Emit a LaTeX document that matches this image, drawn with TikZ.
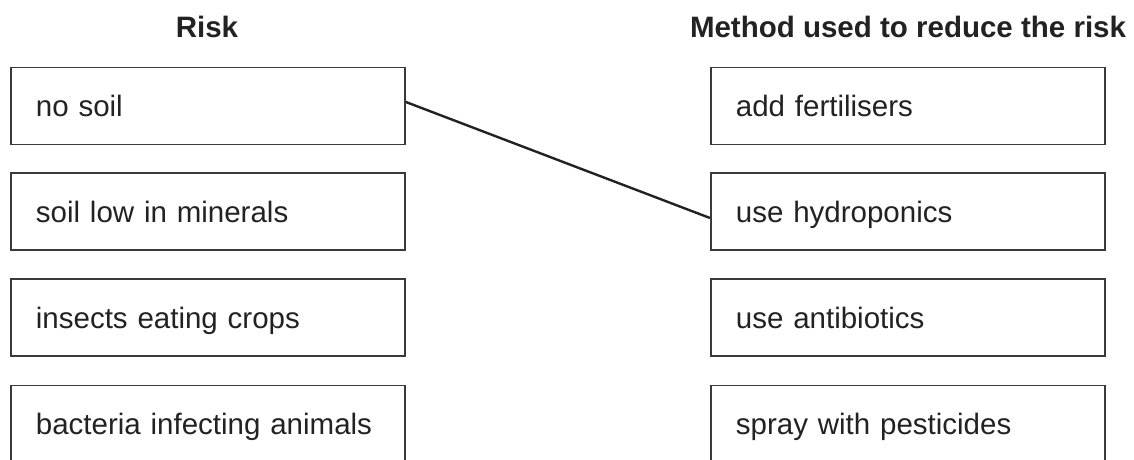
\documentclass[tikz,border=0pt]{standalone}
\usepackage{fontspec}
\setmainfont{Liberation Sans}
\usetikzlibrary{calc}
\definecolor{ink}{HTML}{222222}
\definecolor{frame}{HTML}{3A3A3A}
\begin{document}
\begin{tikzpicture}[x=1pt,y=-1pt,
  every node/.style={text=ink, font=\fontsize{29.5}{35}\selectfont},
  heading/.style={font=\fontsize{29.5}{35}\selectfont\bfseries, anchor=base},
  choice/.style={draw=frame, line width=1.8pt, anchor=north west,
    minimum width=394pt, minimum height=77pt, inner xsep=25pt, inner ysep=0pt,
    text width=344pt, align=left, text height=21pt, text depth=0pt},
  link/.style={draw=ink, line width=2.4pt}]
\useasboundingbox (0,0) rectangle (1134,459);

% column headings
\node[heading] (hrisk) at (207,37) {Risk};
\node[heading] (hmethod) at (908,37) {Method used to reduce the risk};

% left column: risks
\node[choice] (r1) at (10,66.5) {no soil};
\node[choice] (r2) at (10,172.3) {soil low in minerals};
\node[choice] (r3) at (10,278.2) {insects eating crops};
\node[choice] (r4) at (10,384.5) {bacteria infecting animals};

% right column: methods
\node[choice] (m1) at (710,66.5) {add fertilisers};
\node[choice] (m2) at (710,172.3) {use hydroponics};
\node[choice] (m3) at (710,278.2) {use antibiotics};
\node[choice] (m4) at (710,384.5) {spray with pesticides};

% matched pair
\draw[link] ($(r1.north east)!0.45!(r1.south east)$) -- ($(m2.north west)!0.58!(m2.south west)$);
\end{tikzpicture}
\end{document}
